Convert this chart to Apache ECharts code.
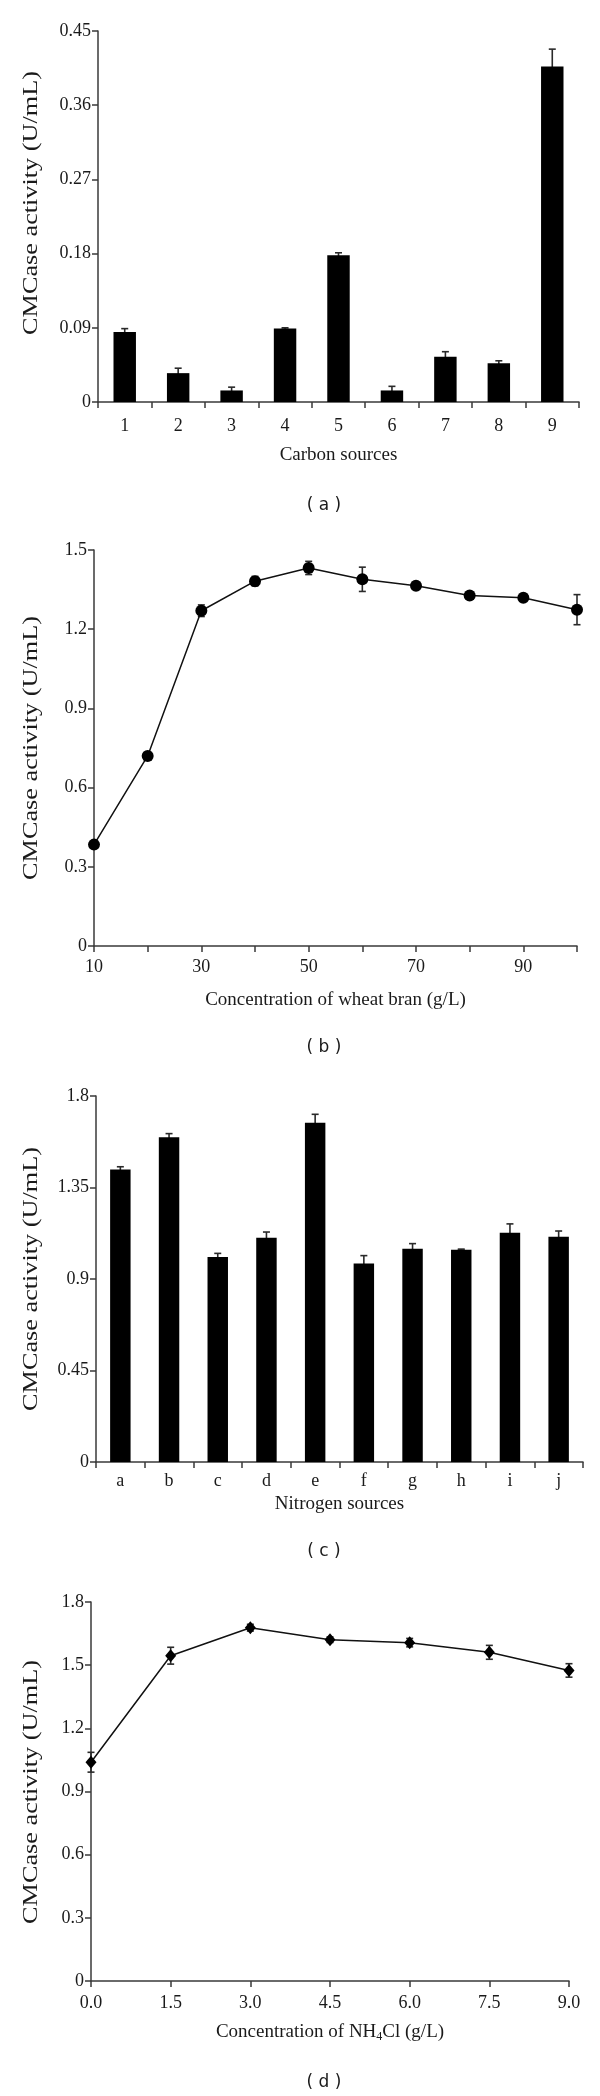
<!DOCTYPE html>
<html>
<head>
<meta charset="utf-8">
<script src="https://cdn.jsdelivr.net/npm/echarts@6/dist/echarts.min.js"></script>
<style>
html,body{margin:0;padding:0;background:#fff;}
#chart{width:600px;height:2096px;}
</style>
</head>
<body>
<div id="chart"></div>
<script>
// ---- Data ----
const carbonCats = ['1','2','3','4','5','6','7','8','9'];
const carbonVals = [0.085, 0.035, 0.014, 0.089, 0.178, 0.014, 0.055, 0.047, 0.407];
const carbonErr  = [0.004, 0.006, 0.004, 0.001, 0.003, 0.005, 0.006, 0.003, 0.021];

const branX    = [10, 20, 30, 40, 50, 60, 70, 80, 90, 100];
const branVals = [0.384, 0.720, 1.270, 1.382, 1.432, 1.389, 1.365, 1.328, 1.319, 1.274];
const branErr  = [0.008, 0.008, 0.022, 0.018, 0.025, 0.046, 0.010, 0.008, 0.010, 0.057];

const nitroCats = ['a','b','c','d','e','f','g','h','i','j'];
const nitroVals = [1.439, 1.597, 1.008, 1.103, 1.669, 0.976, 1.049, 1.044, 1.127, 1.108];
const nitroErr  = [0.013, 0.018, 0.018, 0.028, 0.041, 0.039, 0.025, 0.003, 0.044, 0.028];

const nh4X    = [0, 1.5, 3, 4.5, 6, 7.5, 9];
const nh4Vals = [1.039, 1.545, 1.678, 1.621, 1.607, 1.561, 1.475];
const nh4Err  = [0.047, 0.040, 0.016, 0.013, 0.020, 0.033, 0.032];

const yTitle = 'CMCase activity (U/mL)';
const captions = ['( a )', '( b )', '( c )', '( d )'];

// ---- Styles ----
const SERIF = 'Liberation Serif';
const AX = '#3a3a3a';
const TXT = '#1a1a1a';
const TICK_FS = 18, XNAME_FS = 19, YNAME_FS = 21, CAP_FS = 17;

function errRender(capHalf) {
  return function (params, api) {
    const x = api.value(0), y = api.value(1), e = api.value(2);
    const t = api.coord([x, y + e]);
    const b = api.coord([x, y - e]);
    const st = {stroke: '#2a2a2a', lineWidth: 1.6};
    return {
      type: 'group',
      children: [
        {type: 'line', shape: {x1: t[0], y1: t[1], x2: b[0], y2: b[1]}, style: st},
        {type: 'line', shape: {x1: t[0]-capHalf, y1: t[1], x2: t[0]+capHalf, y2: t[1]}, style: st},
        {type: 'line', shape: {x1: b[0]-capHalf, y1: b[1], x2: b[0]+capHalf, y2: b[1]}, style: st}
      ]
    };
  };
}

function yAxis(gi, max, interval) {
  return {
    type: 'value', gridIndex: gi, min: 0, max: max, interval: interval,
    axisLine: {show: true, lineStyle: {color: AX, width: 1.5}},
    axisTick: {show: true, length: 6, lineStyle: {color: AX, width: 1.5}},
    axisLabel: {fontFamily: SERIF, fontSize: TICK_FS, color: TXT, margin: 7,
      formatter: function (v) { return String(+v.toFixed(2)); }},
    splitLine: {show: false}
  };
}

function xName(txt, gap, extra) {
  return Object.assign({
    name: txt, nameLocation: 'middle', nameGap: gap,
    nameTextStyle: {fontFamily: SERIF, fontSize: XNAME_FS, color: TXT}
  }, extra || {});
}

// rotated (and slightly stretched, as in the source figure) y-axis titles
function yTitleText(cx, cy) {
  return {type: 'text', x: cx, y: cy, rotation: Math.PI / 2, scaleX: 1.25, scaleY: 1,
    style: {text: yTitle, fontFamily: SERIF, fontSize: YNAME_FS, fill: TXT,
      textAlign: 'center', textVerticalAlign: 'middle'}};
}
function captionText(txt, cx, cy) {
  return {type: 'text', x: cx, y: cy,
    style: {text: txt, fontFamily: 'DejaVu Sans', fontSize: CAP_FS, fill: TXT,
      textAlign: 'center', textVerticalAlign: 'middle'}};
}

const axisBase = {
  axisLine: {show: true, onZero: false, lineStyle: {color: AX, width: 1.5}},
  axisTick: {show: true, length: 6, lineStyle: {color: AX, width: 1.5}},
  splitLine: {show: false}
};

const option = {
  animation: false,
  backgroundColor: '#fff',
  grid: [
    {left: 98, top: 31, width: 481, height: 371},
    {left: 94, top: 550, width: 483, height: 396},
    {left: 96, top: 1096, width: 487, height: 366},
    {left: 91, top: 1602, width: 478, height: 379}
  ],
  xAxis: [
    Object.assign({}, axisBase, xName('Carbon sources', 44), {
      type: 'category', gridIndex: 0, data: carbonCats, boundaryGap: true,
      axisTick: {show: true, length: 6, alignWithLabel: false, lineStyle: {color: AX, width: 1.5}},
      axisLabel: {fontFamily: SERIF, fontSize: TICK_FS, color: TXT, margin: 15}
    }),
    Object.assign({}, axisBase, xName('Concentration of wheat bran (g/L)', 45), {
      type: 'value', gridIndex: 1, min: 10, max: 100, interval: 10,
      axisLabel: {fontFamily: SERIF, fontSize: TICK_FS, color: TXT, margin: 12,
        formatter: function (v) { return (v % 20 === 10) ? String(v) : ''; }}
    }),
    Object.assign({}, axisBase, xName('Nitrogen sources', 33), {
      type: 'category', gridIndex: 2, data: nitroCats, boundaryGap: true,
      axisTick: {show: true, length: 6, alignWithLabel: false, lineStyle: {color: AX, width: 1.5}},
      axisLabel: {fontFamily: SERIF, fontSize: TICK_FS, color: TXT, margin: 10}
    }),
    Object.assign({}, axisBase, xName('Concentration of NH{sub|4}Cl (g/L)', 41, {
      nameTextStyle: {fontFamily: SERIF, fontSize: XNAME_FS, color: TXT,
        rich: {sub: {fontFamily: SERIF, fontSize: 12, color: TXT, verticalAlign: 'bottom', padding: [9, 0, 0, 0]}}}
    }), {
      type: 'value', gridIndex: 3, min: 0, max: 9, interval: 1.5,
      axisLabel: {fontFamily: SERIF, fontSize: TICK_FS, color: TXT, margin: 13,
        formatter: function (v) { return v.toFixed(1); }}
    })
  ],
  yAxis: [
    yAxis(0, 0.45, 0.09),
    yAxis(1, 1.5, 0.3),
    yAxis(2, 1.8, 0.45),
    yAxis(3, 1.8, 0.3)
  ],
  graphic: [
    yTitleText(31, 203),
    yTitleText(31, 748),
    yTitleText(31, 1279),
    yTitleText(31, 1792),
    captionText(captions[0], 324, 506),
    captionText(captions[1], 324, 1048),
    captionText(captions[2], 324, 1552),
    captionText(captions[3], 324, 2083)
  ],
  series: [
    {type: 'custom', xAxisIndex: 0, yAxisIndex: 0, z: 1, renderItem: errRender(3.5),
      data: carbonVals.map(function (v, i) { return [i, v, carbonErr[i]]; })},
    {type: 'bar', xAxisIndex: 0, yAxisIndex: 0, z: 3, data: carbonVals, barWidth: '42%',
      itemStyle: {color: '#000'}},

    {type: 'custom', xAxisIndex: 1, yAxisIndex: 1, z: 1, renderItem: errRender(3.5),
      data: branX.map(function (x, i) { return [x, branVals[i], branErr[i]]; })},
    {type: 'line', xAxisIndex: 1, yAxisIndex: 1, z: 3,
      data: branX.map(function (x, i) { return [x, branVals[i]]; }),
      symbol: 'circle', symbolSize: 12, lineStyle: {color: '#111', width: 1.5},
      itemStyle: {color: '#000'}},

    {type: 'custom', xAxisIndex: 2, yAxisIndex: 2, z: 1, renderItem: errRender(3.5),
      data: nitroVals.map(function (v, i) { return [i, v, nitroErr[i]]; })},
    {type: 'bar', xAxisIndex: 2, yAxisIndex: 2, z: 3, data: nitroVals, barWidth: '42%',
      itemStyle: {color: '#000'}},

    {type: 'custom', xAxisIndex: 3, yAxisIndex: 3, z: 1, renderItem: errRender(3.5),
      data: nh4X.map(function (x, i) { return [x, nh4Vals[i], nh4Err[i]]; })},
    {type: 'line', xAxisIndex: 3, yAxisIndex: 3, z: 3,
      data: nh4X.map(function (x, i) { return [x, nh4Vals[i]]; }),
      symbol: 'diamond', symbolSize: [11, 13], lineStyle: {color: '#111', width: 1.5},
      itemStyle: {color: '#000'}}
  ]
};

const chart = echarts.init(document.getElementById('chart'), null, {renderer: 'canvas', width: 600, height: 2096});
chart.setOption(option);
</script>
</body>
</html>
